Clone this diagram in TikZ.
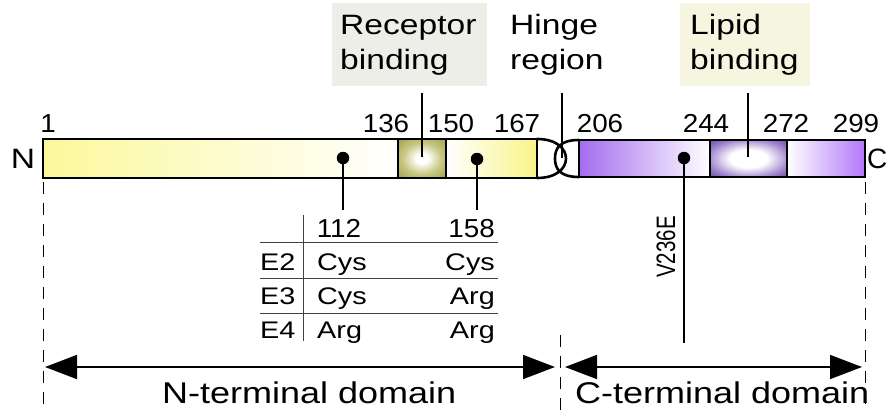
\documentclass[tikz,border=0pt]{standalone}
\usepackage{fontspec}
\setmainfont{Liberation Sans}[FakeStretch=1.2]
\newfontfamily\numfont{Liberation Sans}[FakeStretch=1.07]
\newfontfamily\plainfont{Liberation Sans}
\usetikzlibrary{arrows.meta}
\definecolor{olivec}{RGB}{135,135,45}
\definecolor{olivem}{RGB}{200,200,130}
\definecolor{lipidc}{RGB}{45,25,80}
\definecolor{lipidd}{RGB}{62,36,105}
\definecolor{lipidm}{RGB}{150,120,200}
\definecolor{yel}{RGB}{251,248,155}
\definecolor{yel2}{RGB}{249,244,135}
\definecolor{pur}{RGB}{163,108,240}
\definecolor{pur2}{RGB}{178,118,248}
\definecolor{recbg}{RGB}{238,238,233}
\definecolor{lipbg}{RGB}{245,245,224}
\pgfdeclareradialshading{recshade}{\pgfpoint{0bp}{0bp}}{color(0bp)=(white); color(6bp)=(white); color(20bp)=(olivem); color(45bp)=(olivec); color(75bp)=(olivec)}
\pgfdeclareradialshading{lipshade}{\pgfpoint{0bp}{0bp}}{color(0bp)=(white); color(12bp)=(white); color(28bp)=(lipidm); color(45bp)=(lipidd); color(75bp)=(lipidc)}
\begin{document}
\begin{tikzpicture}[x=1pt,y=-1pt,
  lbl/.style={inner sep=0pt, anchor=base west, font=\fontsize{28}{34}\selectfont},
  num/.style={inner sep=0pt, anchor=base, font=\numfont\fontsize{26}{30}\selectfont},
  tab/.style={inner sep=0pt, anchor=base west, font=\fontsize{24}{28}\selectfont},
  dom/.style={inner sep=0pt, anchor=base west, font=\fontsize{30}{34}\selectfont},
  barline/.style={line width=2.6pt},
  lead/.style={line width=2.4pt},
  dotn/.style={circle, fill=black, inner sep=0pt, minimum size=12.5pt},
  dashv/.style={line width=1pt, dash pattern=on 12pt off 9pt},
  domarrow/.style={line width=1.6pt, {Triangle[length=32pt,width=24pt]}-{Triangle[length=32pt,width=24pt]}},
  tline/.style={line width=1pt, black!75},
  boxbg/.style={inner sep=0pt, anchor=north west, minimum width=#1}
]
\useasboundingbox (0,0) rectangle (889,412);

% label boxes
\node[boxbg=155pt, minimum height=83pt, fill=recbg] (recbox) at (332,3) {};
\node[boxbg=130pt, minimum height=83pt, fill=lipbg] (lipbox) at (680,3) {};
\node[lbl] (rec1) at (340,35) {Receptor};
\node[lbl] (rec2) at (340,70) {binding};
\node[lbl] (hin1) at (510,35) {Hinge};
\node[lbl] (hin2) at (510,70) {region};
\node[lbl] (lip1) at (690,35) {Lipid};
\node[lbl] (lip2) at (690,70) {binding};

% bar segments
\shade[left color=yel, right color=white] (43,139) rectangle (398,178);
\shade[shading=recshade] (398,139) rectangle (446,178);
\shade[left color=white, right color=yel2] (446,139) rectangle (537,178);
\shade[left color=pur, right color=white] (579,140) rectangle (710,177);
\shade[shading=lipshade] (710,140) rectangle (787,177);
\shade[left color=white, right color=pur2] (787,140) rectangle (865,177);
\draw[barline] (43,139) rectangle (537,178);
\draw[barline] (398,139) -- (398,178) (446,139) -- (446,178);
\draw[barline] (579,140) rectangle (865,177);
\draw[barline] (710,140) -- (710,177) (787,140) -- (787,177);
% hinge
\draw[barline] (537,139) .. controls (557,139) and (566,149) .. (566,158.5) .. controls (566,168) and (557,178) .. (537,178);
\draw[barline] (579,140) .. controls (559,140) and (555,149) .. (555,158.5) .. controls (555,168) and (559,177) .. (579,177);

% end letters
\node[lbl, anchor=base] (nN) at (23,168) {N};
\node[lbl, font=\plainfont\fontsize{28}{34}\selectfont] (nC) at (867,168) {C};

% position numbers
\node[num] (p1) at (48,132) {1};
\node[num] (p136) at (386,132) {136};
\node[num] (p150) at (451,132) {150};
\node[num] (p167) at (517,132) {167};
\node[num] (p206) at (600,132) {206};
\node[num] (p244) at (706,132) {244};
\node[num] (p272) at (786,132) {272};
\node[num] (p299) at (856,132) {299};

% leaders from labels
\coordinate (rectop) at (422,93);  \coordinate (recin) at (422,157);
\coordinate (hintop) at (562,93);  \coordinate (hinin) at (562,158);
\coordinate (liptop) at (748,93);  \coordinate (lipin) at (748,157);
\draw[lead] (rectop) -- (recin);
\draw[lead] (hintop) -- (hinin);
\draw[lead] (liptop) -- (lipin);

% dots
\node[dotn] (d112) at (343,158) {};
\node[dotn] (d158) at (477,159) {};
\node[dotn] (dV) at (684,158) {};
\coordinate (e112) at (343,210);
\coordinate (e158) at (477,210);
\coordinate (eV) at (684,343);
\draw[lead] (d112.center) -- (e112);
\draw[lead] (d158.center) -- (e158);
\draw[lead] (dV.center) -- (eV);
\node[inner sep=0pt, rotate=90, font=\plainfont\fontsize{20.5}{24}\selectfont] (v236) at (666,247) {\scalebox{1}[1.3]{V236E}};

% table
\coordinate (tv1) at (303,215); \coordinate (tv2) at (303,341);
\draw[tline] (tv1) -- (tv2);
\coordinate (th1a) at (260,242); \coordinate (th1b) at (498,242);
\coordinate (th2a) at (260,278); \coordinate (th2b) at (498,278);
\coordinate (th3a) at (260,313); \coordinate (th3b) at (498,313);
\draw[tline] (th1a) -- (th1b) (th2a) -- (th2b) (th3a) -- (th3b);
\node[num] (h112) at (339,237) {112};
\node[num, anchor=base east] (h158) at (495,237) {158};
\node[tab] (e2) at (260,270) {E2};
\node[tab] (e3) at (260,304) {E3};
\node[tab] (e4) at (260,338) {E4};
\node[tab] (c21) at (317,270) {Cys};
\node[tab, anchor=base east] (c22) at (495,270) {Cys};
\node[tab] (c31) at (317,304) {Cys};
\node[tab, anchor=base east] (c32) at (495,304) {Arg};
\node[tab] (c41) at (317,338) {Arg};
\node[tab, anchor=base east] (c42) at (495,338) {Arg};

% domain markers
\coordinate (dl1) at (43,182);  \coordinate (dl2) at (43,412);
\coordinate (dm1) at (560,335); \coordinate (dm2) at (560,412);
\coordinate (dr1) at (865,182); \coordinate (dr2) at (865,412);
\draw[dashv] (dl1) -- (dl2);
\draw[dashv] (dm1) -- (dm2);
\draw[dashv] (dr1) -- (dr2);
\coordinate (nl) at (45,367); \coordinate (nr) at (555,367);
\coordinate (cl) at (565,367); \coordinate (cr) at (862,367);
\draw[domarrow] (nl) -- (nr);
\draw[domarrow] (cl) -- (cr);
\node[dom] (ndom) at (162,403) {N-terminal domain};
\node[dom] (cdom) at (575,403) {C-terminal domain};
\end{tikzpicture}
\end{document}
